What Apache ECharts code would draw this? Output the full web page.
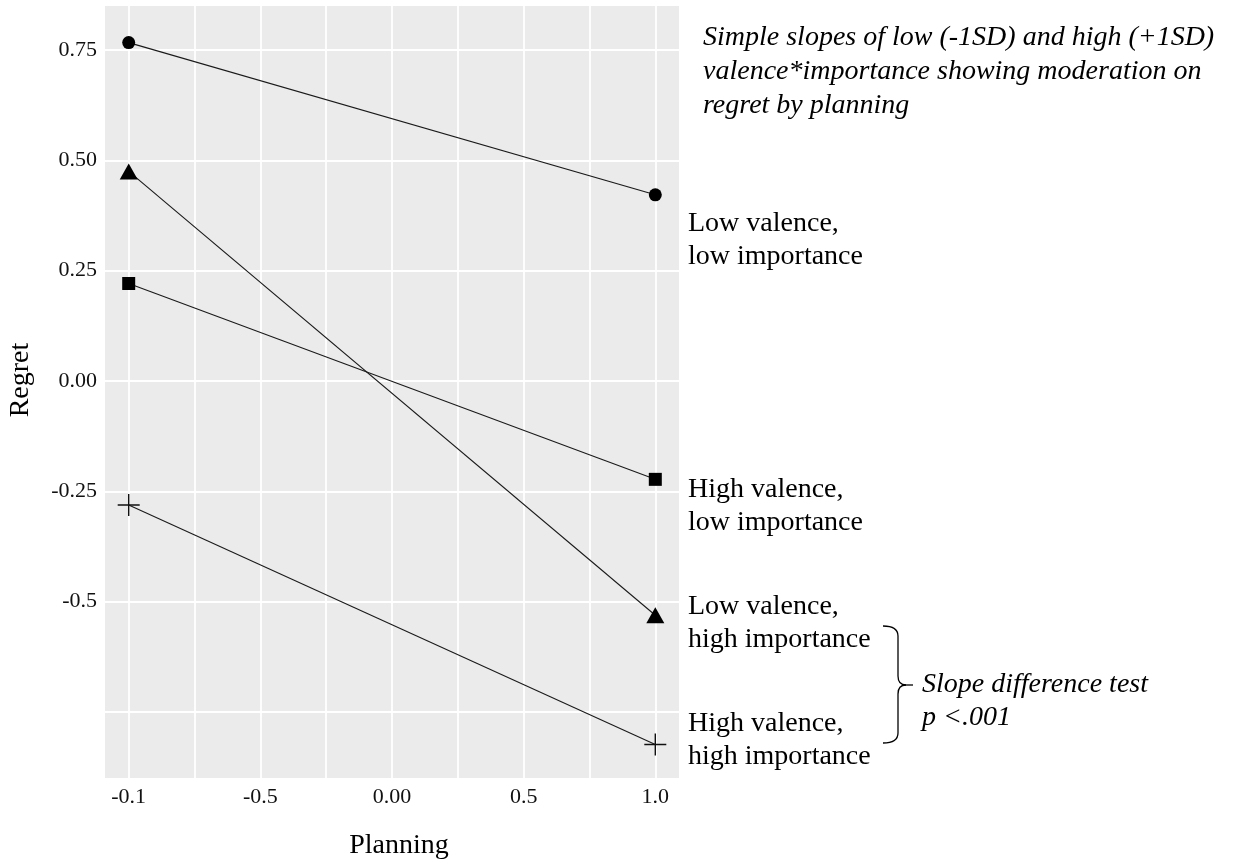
<!DOCTYPE html>
<html>
<head>
<meta charset="utf-8">
<script src="https://cdn.jsdelivr.net/npm/echarts@6/dist/echarts.min.js"></script>
<style>
html,body{margin:0;padding:0;background:#fff;}
#chart{width:1233px;height:860px;}
</style>
</head>
<body>
<div id="chart"></div>
<script>
// ---- data ----
const planning = [-1, 1];
const lowValLowImp = [0.767, 0.422];
const highValLowImp = [0.221, -0.223];
const lowValHighImp = [0.475, -0.531];
const highValHighImp = [-0.281, -0.824];

const xTickValues = [-1, -0.5, 0, 0.5, 1];
const xTickLabels = ['-0.1', '-0.5', '0.00', '0.5', '1.0'];
const xGridValues = [-1, -0.75, -0.5, -0.25, 0, 0.25, 0.5, 0.75, 1];
const yTickValues = [0.75, 0.5, 0.25, 0, -0.25, -0.5, -0.75];
const yTickLabels = ['0.75', '0.50', '0.25', '0.00', '-0.25', '-0.5', ''];

const seriesNames = [
  'Low valence,\nlow importance',
  'High valence,\nlow importance',
  'Low valence,\nhigh importance',
  'High valence,\nhigh importance'
];
const titleText = 'Simple slopes of low (-1SD) and high (+1SD)\nvalence*importance showing moderation on\nregret by planning';
const testText = 'Slope difference test\np <.001';
const xTitle = 'Planning';
const yTitle = 'Regret';

// ---- build ----
const FONT = "'Liberation Serif','DejaVu Serif',serif";
function pairs(ys) { return planning.map((x, i) => [x, ys[i]]); }
function lookup(vals, labels) {
  return function (v) {
    for (let i = 0; i < vals.length; i++) if (Math.abs(vals[i] - v) < 1e-9) return labels[i];
    return '';
  };
}
const lineStyle = { color: '#1a1a1a', width: 1.1 };
function mkSeries(name, ys, symbol, size, itemStyle) {
  return {
    type: 'line', name: name, data: pairs(ys),
    symbol: symbol, symbolSize: size,
    showAllSymbol: true,
    lineStyle: lineStyle,
    itemStyle: itemStyle,
    emphasis: { disabled: true },
    silent: true, z: 3
  };
}
const brStyle = { fill: 'none', stroke: '#000', lineWidth: 1.3 };
function bz(x1, y1, cx, cy, x2, y2) {
  return { type: 'bezierCurve', silent: true, shape: { x1: x1, y1: y1, cpx1: cx, cpy1: cy, x2: x2, y2: y2 }, style: brStyle };
}
function ln(x1, y1, x2, y2) {
  return { type: 'line', silent: true, shape: { x1: x1, y1: y1, x2: x2, y2: y2 }, style: brStyle };
}

const chart = echarts.init(document.getElementById('chart'), null, { renderer: 'canvas' });
chart.setOption({
  animation: false,
  backgroundColor: '#ffffff',
  textStyle: { fontFamily: FONT },
  grid: { left: 105, right: 554, top: 6, bottom: 82, show: true, backgroundColor: '#ebebeb', borderWidth: 0, containLabel: false, outerBoundsMode: 'none' },
  xAxis: {
    type: 'value', min: -1.09, max: 1.09,
    axisLine: { show: false },
    axisTick: { show: false, customValues: xGridValues },
    axisLabel: { customValues: xTickValues, formatter: lookup(xTickValues, xTickLabels), fontSize: 22, color: '#111', fontFamily: FONT, margin: 8 },
    splitLine: { show: true, lineStyle: { color: '#ffffff', width: 1.8 } },
    name: xTitle, nameLocation: 'middle', nameGap: 54,
    nameTextStyle: { fontSize: 28, color: '#000', fontFamily: FONT, padding: [0, 0, 0, 14] }
  },
  yAxis: {
    type: 'value', min: -0.9, max: 0.85,
    axisLine: { show: false },
    axisTick: { show: false, customValues: yTickValues },
    axisLabel: { customValues: yTickValues.slice(0, 6), formatter: lookup(yTickValues, yTickLabels), fontSize: 22, color: '#111', fontFamily: FONT, margin: 8 },
    splitLine: { show: true, lineStyle: { color: '#ffffff', width: 1.8 } },
    name: yTitle, nameLocation: 'middle', nameGap: 70,
    nameTextStyle: { fontSize: 28, color: '#000', fontFamily: FONT, padding: [0, 0, 0, 24] }
  },
  series: [
    mkSeries(seriesNames[0], lowValLowImp, 'circle', 13, { color: '#000' }),
    mkSeries(seriesNames[1], highValLowImp, 'rect', 13, { color: '#000' }),
    mkSeries(seriesNames[2], lowValHighImp, 'triangle', [18, 16], { color: '#000' }),
    mkSeries(seriesNames[3], highValHighImp, 'path://M0,10L20,10M10,0L10,20', 22, { color: 'none', borderColor: '#111', borderWidth: 1.4 })
  ],
  graphic: [
    { type: 'text', left: 703, top: 21, silent: true,
      style: { text: titleText, font: "italic 28px 'Liberation Serif', serif", lineHeight: 34, fill: '#000' } },
    { type: 'text', left: 688, top: 207, silent: true,
      style: { text: seriesNames[0], font: "28px 'Liberation Serif', serif", lineHeight: 33, fill: '#000' } },
    { type: 'text', left: 688, top: 473, silent: true,
      style: { text: seriesNames[1], font: "28px 'Liberation Serif', serif", lineHeight: 33, fill: '#000' } },
    { type: 'text', left: 688, top: 590, silent: true,
      style: { text: seriesNames[2], font: "28px 'Liberation Serif', serif", lineHeight: 33, fill: '#000' } },
    { type: 'text', left: 688, top: 707, silent: true,
      style: { text: seriesNames[3], font: "28px 'Liberation Serif', serif", lineHeight: 33, fill: '#000' } },
    { type: 'text', left: 922, top: 668, silent: true,
      style: { text: testText, font: "italic 28px 'Liberation Serif', serif", lineHeight: 33, fill: '#000' } },
    bz(883, 626, 898, 626, 898, 636),
    ln(898, 636, 898, 676),
    bz(898, 676, 898, 685, 906, 685),
    ln(906, 685, 913, 685),
    bz(906, 685, 898, 685, 898, 694),
    ln(898, 694, 898, 733),
    bz(898, 733, 898, 743, 883, 743)
  ]
});
</script>
</body>
</html>
